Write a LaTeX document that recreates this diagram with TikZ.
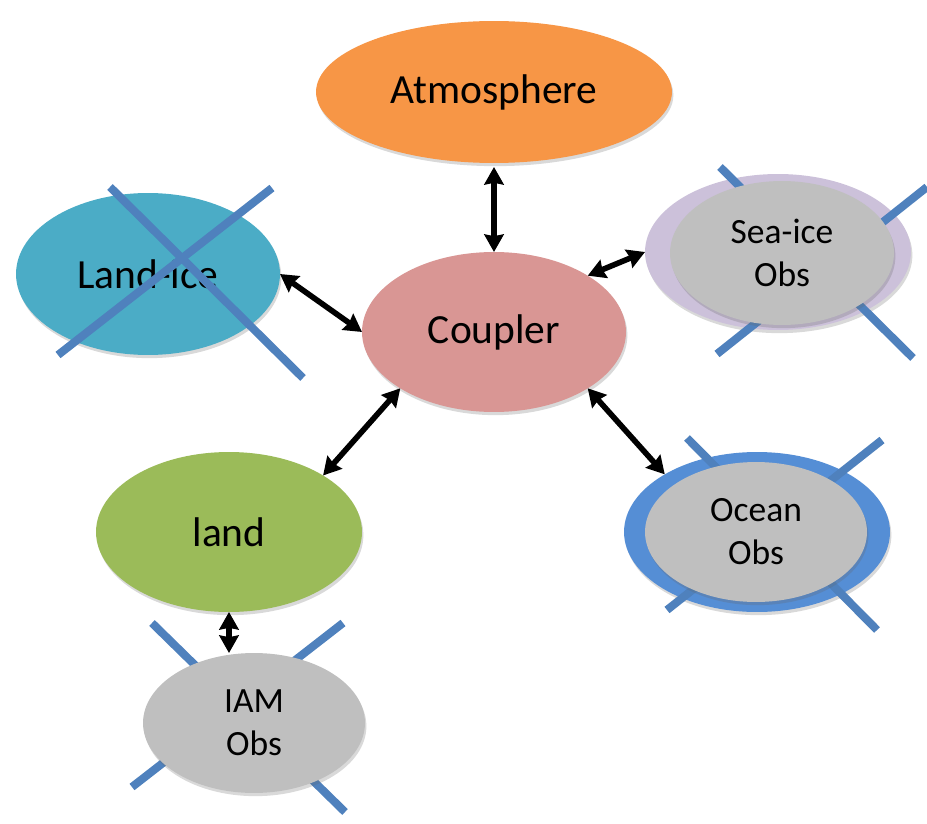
\documentclass[tikz,border=0pt]{standalone}
\usepackage{fontspec}
\setmainfont{Carlito}
\usetikzlibrary{shapes.geometric, arrows.meta, shadows}

\definecolor{atmOrange}{HTML}{F79646}
\definecolor{iceTeal}{HTML}{4BACC6}
\definecolor{couplerRose}{HTML}{D99694}
\definecolor{landGreen}{HTML}{9BBB59}
\definecolor{obsGray}{HTML}{BFBFBF}
\definecolor{seaLilac}{HTML}{CCC1DA}
\definecolor{oceanBlue}{HTML}{558ED5}
\definecolor{strikeBlue}{HTML}{4F81BD}

\begin{document}
\begin{tikzpicture}[x=0.02cm, y=-0.02cm,
  blob/.style={ellipse, inner sep=0pt, outer sep=0pt, draw=none,
    drop shadow={shadow xshift=0.8pt, shadow yshift=-1.8pt, opacity=0.25, fill=black!60}},
  bigtext/.style={font=\fontsize{23.6}{28}\selectfont},
  obstext/.style={font=\fontsize{20.2}{24.5}\selectfont, align=center},
  strike/.style={draw=strikeBlue, line width=4.6pt},
  link/.style={line width=3.2pt,
    {Stealth[length=10pt,width=11pt,inset=1pt]}-{Stealth[length=10pt,width=11pt,inset=1pt]}}
]
\useasboundingbox (0,0) rectangle (927,824);

% component models
\node[blob, fill=atmOrange, minimum width=7.12cm, minimum height=2.84cm, bigtext]
  (atm) at (494,92) {Atmosphere};
\node[blob, fill=couplerRose, minimum width=5.28cm, minimum height=3.2cm, bigtext]
  (coupler) at (494,332) {Coupler};
\node[blob, fill=landGreen, minimum width=5.32cm, minimum height=3.2cm, bigtext]
  (land) at (229,532) {land};

% land-ice, struck out
\node[blob, fill=iceTeal, minimum width=5.28cm, minimum height=3.24cm, bigtext]
  (landice) at (148,274) {Land-ice};
\draw[strike] (110,187) -- (303,378);
\draw[strike] (58,355) -- (272,188);

% sea-ice observations
\node[blob, fill=seaLilac, minimum width=5.32cm, minimum height=3.12cm]
  (seaicebg) at (778,252) {};
\draw[strike] (720,167) -- (913,358);
\draw[strike] (717,354) -- (927,187);
\node[blob, fill=obsGray, minimum width=4.48cm, minimum height=2.88cm, obstext]
  (seaice) at (782,253) {Sea-ice\\Obs};

% ocean observations
\node[blob, fill=oceanBlue, minimum width=5.32cm, minimum height=3.2cm]
  (ocean) at (757,532) {};
\draw[strike] (687,438) -- (877,630);
\draw[strike] (667,610) -- (882,440);
\node[blob, fill=obsGray, minimum width=4.44cm, minimum height=2.8cm, obstext]
  (oceanobs) at (756,532) {Ocean\\Obs};

% IAM observations
\draw[strike] (152,623) -- (345,812);
\draw[strike] (132,787) -- (343,623);
\node[blob, fill=obsGray, minimum width=4.44cm, minimum height=2.8cm, obstext]
  (iam) at (254,723) {IAM\\Obs};

% exchanges through the coupler
\draw[link, shorten <=0.08cm] (atm.south) -- (coupler.north);
\draw[link] (landice.east) -- (coupler.west);
\draw[link] (coupler.31) -- (seaicebg.west);
\draw[link] (coupler.211) -- (land.31);
\draw[link] (coupler.-31) -- (ocean.148);
\draw[link] (land.south) -- (land.south |- iam.north);
\end{tikzpicture}
\end{document}
